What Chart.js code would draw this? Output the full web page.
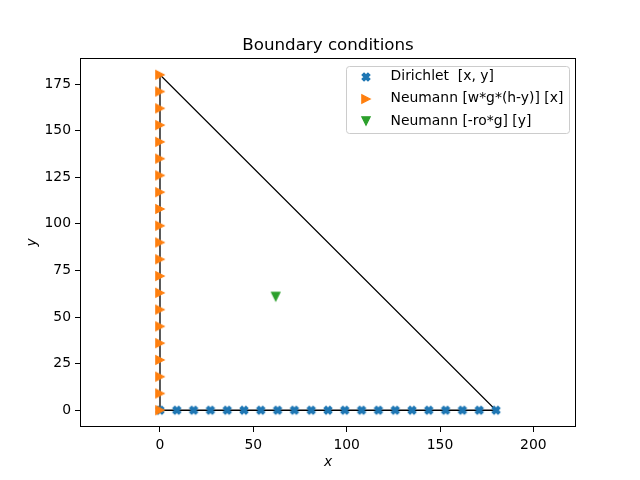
<!DOCTYPE html>
<html>
<head>
<meta charset="utf-8">
<script src="https://cdn.jsdelivr.net/npm/chart.js@4.4.1/dist/chart.umd.min.js"></script>
<style>
  body { margin: 0; background: #fff; }
  canvas { display: block; }
</style>
</head>
<body>
<canvas id="chart" width="640" height="480"></canvas>
<script>
// boundary of the domain (closed triangle)
const boundaryX = [0, 180, 0, 0];
const boundaryY = [0, 0, 180, 0];

// Dirichlet nodes along the bottom edge
const dirichletX = [0, 9, 18, 27, 36, 45, 54, 63, 72, 81, 90, 99, 108, 117, 126, 135, 144, 153, 162, 171, 180];
const dirichletY = [0, 0, 0, 0, 0, 0, 0, 0, 0, 0, 0, 0, 0, 0, 0, 0, 0, 0, 0, 0, 0];

// Neumann nodes along the left edge
const neumannXx = [0, 0, 0, 0, 0, 0, 0, 0, 0, 0, 0, 0, 0, 0, 0, 0, 0, 0, 0, 0, 0];
const neumannXy = [0, 9, 18, 27, 36, 45, 54, 63, 72, 81, 90, 99, 108, 117, 126, 135, 144, 153, 162, 171, 180];

// body force node
const neumannYx = [62];
const neumannYy = [61];

const xTicks = [0, 50, 100, 150, 200];
const yTicks = [0, 25, 50, 75, 100, 125, 150, 175];

const title = 'Boundary conditions';
const labels = ['Dirichlet  [x, y]', 'Neumann [w*g*(h-y)] [x]', 'Neumann [-ro*g] [y]'];
const colors = ['#1f77b4', '#ff7f0e', '#2ca02c'];

const FONT = 'DejaVu Sans';

function pts(xs, ys) {
    return xs.map((x, i) => ({x: x, y: ys[i]}));
}

// matplotlib-like marker sprites
function sprite(color, pathFn) {
    const c = document.createElement('canvas');
    c.width = 14; c.height = 14;
    const g = c.getContext('2d');
    g.translate(7, 7);
    g.fillStyle = color;
    g.strokeStyle = color;
    g.lineWidth = 1.2;
    g.lineJoin = 'miter';
    g.beginPath();
    pathFn(g);
    g.closePath();
    g.fill();
    g.stroke();
    return c;
}

const s = 4.17;
const markerX = sprite(colors[0], g => {
    const p = [[-1,-3],[1,-3],[1,-1],[3,-1],[3,1],[1,1],[1,3],[-1,3],[-1,1],[-3,1],[-3,-1],[-1,-1]];
    const a = Math.PI / 4;
    p.forEach((q, i) => {
        const x = q[0] / 3 * s, y = q[1] / 3 * s;
        const rx = x * Math.cos(a) - y * Math.sin(a);
        const ry = x * Math.sin(a) + y * Math.cos(a);
        if (i === 0) g.moveTo(rx, ry); else g.lineTo(rx, ry);
    });
});
const markerRight = sprite(colors[1], g => {
    g.moveTo(s, 0); g.lineTo(-s, -s); g.lineTo(-s, s);
});
const markerDown = sprite(colors[2], g => {
    g.moveTo(-s, -s); g.lineTo(s, -s); g.lineTo(0, s);
});
const markers = [markerX, markerRight, markerDown];

const frameAndLegend = {
    id: 'frameAndLegend',
    afterDraw(chart) {
        const ctx = chart.ctx;
        const a = chart.chartArea;
        ctx.save();
        ctx.strokeStyle = '#000';
        ctx.lineWidth = 1;
        ctx.strokeRect(Math.round(a.left) + 0.5, Math.round(a.top) + 0.5,
            Math.round(a.right - a.left) - 1, Math.round(a.bottom - a.top) - 1);

        // title centred over the axes
        ctx.fillStyle = '#000';
        ctx.font = '16.7px "' + FONT + '"';
        ctx.textAlign = 'center';
        ctx.textBaseline = 'alphabetic';
        ctx.fillText(title, (a.left + a.right) / 2, a.top - 8);

        // legend, upper right
        const fs = 13.9;
        ctx.font = fs + 'px "' + FONT + '"';
        ctx.textAlign = 'left';
        const textW = Math.max(...labels.map(t => ctx.measureText(t).width));
        const w = 44.5 + textW + 5.6;
        const h = 67;
        const right = a.right - 7;
        const top = a.top + 7.5;
        const left = right - w;
        ctx.beginPath();
        ctx.roundRect(Math.round(left) + 0.5, Math.round(top) + 0.5, Math.round(w), h, 3);
        ctx.fillStyle = 'rgba(255,255,255,0.8)';
        ctx.fill();
        ctx.strokeStyle = '#cccccc';
        ctx.stroke();
        ctx.fillStyle = '#000';
        ctx.textBaseline = 'middle';
        labels.forEach((t, i) => {
            const y = top + 11 + i * 22.2;
            ctx.drawImage(markers[i], Math.round(left + 19.5 - 7), Math.round(y - 7));
            ctx.fillText(t, left + 44.5, y);
        });
        ctx.restore();
    }
};

new Chart(document.getElementById('chart'), {
    type: 'scatter',
    data: {
        datasets: [
            {
                label: 'boundary',
                data: pts(boundaryX, boundaryY),
                showLine: true,
                borderColor: '#000',
                borderWidth: 1.3,
                pointRadius: 0,
                order: 3
            },
            {
                label: labels[0],
                data: pts(dirichletX, dirichletY),
                pointStyle: markerX,
                order: 2
            },
            {
                label: labels[1],
                data: pts(neumannXx, neumannXy),
                pointStyle: markerRight,
                order: 0
            },
            {
                label: labels[2],
                data: pts(neumannYx, neumannYy),
                pointStyle: markerDown,
                order: 1
            }
        ]
    },
    options: {
        responsive: false,
        animation: false,
        layout: { padding: { left: 0, right: 64, top: 58, bottom: 0 } },
        plugins: {
            legend: { display: false },
            tooltip: { enabled: false },
            title: { display: false }
        },
        scales: {
            x: {
                type: 'linear',
                min: -42.85,
                max: 222.85,
                afterFit(scale) { scale.height = 53; },
                afterBuildTicks(scale) { scale.ticks = xTicks.map(v => ({value: v})); },
                grid: { drawOnChartArea: false, drawTicks: true, tickLength: 5, color: '#000' },
                border: { display: false },
                ticks: { color: '#000', font: { family: FONT, size: 13.9 }, padding: 5, maxRotation: 0 },
                title: {
                    display: true, text: 'x', color: '#000',
                    font: { family: FONT, size: 13.9, style: 'italic' },
                    padding: { top: 0, bottom: 9 }
                }
            },
            y: {
                type: 'linear',
                min: -9,
                max: 189,
                afterFit(scale) { scale.width = 80; },
                afterBuildTicks(scale) { scale.ticks = yTicks.map(v => ({value: v})); },
                grid: { drawOnChartArea: false, drawTicks: true, tickLength: 5, color: '#000' },
                border: { display: false },
                ticks: { color: '#000', font: { family: FONT, size: 13.9 }, padding: 4 },
                title: {
                    display: true, text: 'y', color: '#000',
                    font: { family: FONT, size: 13.9, style: 'italic' },
                    padding: { top: 24, bottom: 0 }
                }
            }
        }
    },
    plugins: [frameAndLegend]
});
</script>
</body>
</html>
